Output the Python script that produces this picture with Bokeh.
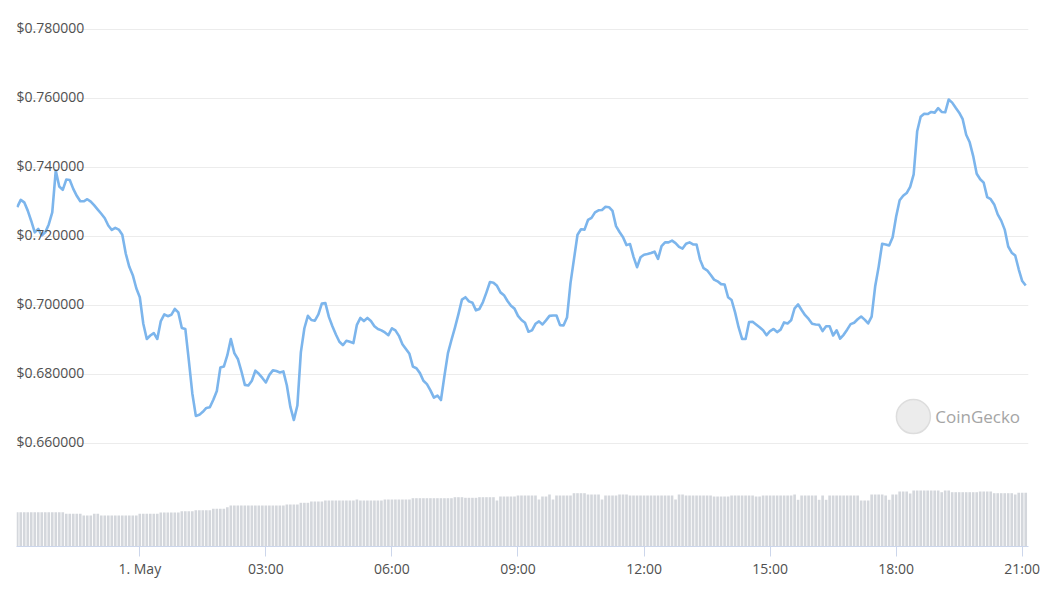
from bokeh.plotting import figure
from bokeh.models import Range1d, FixedTicker, Label
from bokeh.core.properties import value
from bokeh.embed import file_html
from bokeh.resources import INLINE

# ---- data -------------------------------------------------------------
# hours relative to 1 May 00:00; 5-minute samples starting 30 Apr 21:05
start_hour = -2.9167
step_hour = 5 / 60

price = [
    0.7285, 0.7306, 0.7299, 0.7275, 0.7245, 0.7212, 0.7222, 0.7203, 0.7212, 0.7235, 0.7270, 0.7391,
    0.7345, 0.7335, 0.7365, 0.7364, 0.7338, 0.7318, 0.7302, 0.7302, 0.7308, 0.7301, 0.7290, 0.7278,
    0.7266, 0.7253, 0.7232, 0.7219, 0.7225, 0.7220, 0.7205, 0.7150, 0.7112, 0.7088, 0.7050, 0.7024,
    0.6947, 0.6903, 0.6913, 0.6920, 0.6903, 0.6955, 0.6974, 0.6969, 0.6973, 0.6990, 0.6980, 0.6935,
    0.6932, 0.6841, 0.6745, 0.6680, 0.6683, 0.6692, 0.6703, 0.6705, 0.6727, 0.6752, 0.6820, 0.6823,
    0.6856, 0.6903, 0.6862, 0.6845, 0.6810, 0.6770, 0.6768, 0.6782, 0.6811, 0.6802, 0.6790, 0.6777,
    0.6799, 0.6812, 0.6810, 0.6806, 0.6809, 0.6768, 0.6706, 0.6668, 0.6710, 0.6865, 0.6934, 0.6970,
    0.6958, 0.6956, 0.6974, 0.7006, 0.7007, 0.6967, 0.6940, 0.6916, 0.6895, 0.6885, 0.6898, 0.6895,
    0.6891, 0.6944, 0.6964, 0.6955, 0.6964, 0.6955, 0.6940, 0.6932, 0.6928, 0.6922, 0.6914, 0.6934,
    0.6928, 0.6912, 0.6888, 0.6874, 0.6860, 0.6823, 0.6818, 0.6804, 0.6782, 0.6772, 0.6754, 0.6733,
    0.6739, 0.6726, 0.6796, 0.6862, 0.6900, 0.6936, 0.6975, 0.7017, 0.7024, 0.7012, 0.7008, 0.6986,
    0.6990, 0.7010, 0.7038, 0.7068, 0.7066, 0.7057, 0.7038, 0.7030, 0.7013, 0.6999, 0.6991, 0.6970,
    0.6958, 0.6950, 0.6924, 0.6928, 0.6947, 0.6954, 0.6945, 0.6957, 0.6970, 0.6971, 0.6971, 0.6943,
    0.6942, 0.6965, 0.7065, 0.7135, 0.7205, 0.7221, 0.7220, 0.7248, 0.7254, 0.7270, 0.7276, 0.7277,
    0.7286, 0.7285, 0.7274, 0.7230, 0.7213, 0.7198, 0.7175, 0.7178, 0.7141, 0.7111, 0.7140, 0.7147,
    0.7149, 0.7152, 0.7156, 0.7135, 0.7172, 0.7183, 0.7183, 0.7188, 0.7181, 0.7170, 0.7165, 0.7179,
    0.7183, 0.7177, 0.7177, 0.7133, 0.7108, 0.7102, 0.7089, 0.7075, 0.7070, 0.7062, 0.7061, 0.7024,
    0.7016, 0.6980, 0.6937, 0.6903, 0.6903, 0.6952, 0.6953, 0.6945, 0.6937, 0.6928, 0.6914, 0.6926,
    0.6932, 0.6923, 0.6930, 0.6951, 0.6948, 0.6957, 0.6992, 0.7003, 0.6987, 0.6972, 0.6961, 0.6947,
    0.6945, 0.6944, 0.6926, 0.6940, 0.6940, 0.6913, 0.6928, 0.6904, 0.6915, 0.6930, 0.6946, 0.6950,
    0.6960, 0.6968, 0.6959, 0.6948, 0.6968, 0.7055, 0.7112, 0.7179, 0.7177, 0.7174, 0.7198, 0.7258,
    0.7305, 0.7318, 0.7326, 0.7344, 0.7380, 0.7505, 0.7547, 0.7556, 0.7555, 0.7561, 0.7559, 0.7572,
    0.7561, 0.7560, 0.7597, 0.7588, 0.7573, 0.7559, 0.7540, 0.7495, 0.7473, 0.7433, 0.7382, 0.7366,
    0.7356, 0.7314, 0.7308, 0.7293, 0.7264, 0.7246, 0.7220, 0.7171, 0.7153, 0.7145, 0.7105, 0.7071,
    0.7058,
]

# 24h rolling volume, millions USD
volume = [
    343, 343, 343, 343, 343, 343, 343, 343, 343, 343, 343, 343,
    343, 343, 327, 327, 327, 327, 327, 310, 310, 310, 327, 327,
    310, 310, 310, 310, 310, 310, 310, 310, 310, 310, 310, 327,
    327, 327, 327, 327, 327, 340, 340, 340, 340, 340, 340, 353,
    353, 353, 353, 363, 363, 363, 363, 363, 377, 377, 377, 377,
    393, 410, 410, 410, 410, 410, 410, 410, 410, 410, 410, 410,
    410, 410, 410, 410, 410, 420, 420, 420, 420, 437, 437, 437,
    450, 450, 450, 450, 460, 460, 460, 460, 460, 460, 460, 460,
    460, 470, 460, 460, 460, 460, 460, 460, 460, 470, 470, 470,
    470, 470, 470, 470, 470, 483, 483, 483, 483, 483, 483, 483,
    483, 483, 483, 483, 483, 493, 493, 493, 487, 487, 487, 487,
    493, 493, 493, 493, 493, 460, 500, 500, 500, 500, 500, 510,
    510, 510, 510, 510, 510, 470, 500, 500, 520, 470, 510, 510,
    510, 510, 510, 533, 533, 533, 533, 520, 520, 520, 520, 470,
    510, 510, 510, 510, 520, 520, 520, 510, 510, 510, 510, 510,
    510, 510, 510, 510, 510, 510, 510, 510, 470, 520, 520, 510,
    510, 510, 510, 510, 510, 510, 510, 500, 500, 500, 500, 500,
    510, 510, 510, 510, 510, 510, 510, 500, 500, 510, 510, 510,
    510, 510, 510, 510, 510, 510, 520, 467, 510, 510, 510, 510,
    510, 467, 510, 467, 510, 510, 510, 510, 510, 510, 510, 510,
    510, 460, 460, 460, 520, 520, 520, 520, 510, 467, 520, 520,
    550, 550, 550, 530, 560, 560, 560, 560, 560, 560, 560, 560,
    543, 560, 560, 543, 543, 543, 543, 543, 543, 543, 543, 550,
    550, 550, 550, 533, 533, 533, 533, 533, 533, 520, 537, 537,
    537,
]

hours = [start_hour + i * step_hour for i in range(len(price))]

price_ticks = [0.66, 0.68, 0.70, 0.72, 0.74, 0.76, 0.78]
price_tick_labels = ["$0.660000", "$0.680000", "$0.700000", "$0.720000",
                     "$0.740000", "$0.760000", "$0.780000"]
time_ticks = [0, 3, 6, 9, 12, 15, 18, 21]
time_tick_labels = ["1. May", "03:00", "06:00", "09:00", "12:00", "15:00", "18:00", "21:00"]

# ---- figure -------------------------------------------------------------
x0, x1 = -2.9343, 21.1495
p = figure(width=1043, height=586, output_backend="svg", toolbar_location=None,
           x_range=Range1d(x0, x1), y_range=Range1d(0.630145, 0.782609),
           min_border_left=16, min_border_right=15, min_border_top=20, min_border_bottom=40)
p.outline_line_color = None
p.background_fill_color = "white"
p.border_fill_color = "white"

p.yaxis.visible = False
p.xgrid.visible = False
p.ygrid.ticker = FixedTicker(ticks=price_ticks)
p.ygrid.grid_line_color = "#ececec"
p.ygrid.grid_line_width = 1

p.extra_y_ranges = {"vol": Range1d(0, 5260)}

# volume bars
p.vbar(x=hours, top=volume, bottom=0, width=step_hour * 0.75, y_range_name="vol",
       fill_color="#d4d7dc", line_color=None)

# price line
p.line(hours, price, line_color="#7cb5ec", line_width=2.6, line_join="round")

# y labels inside plot, above gridlines
p.text(x=[x0] * len(price_ticks), y=price_ticks, text=price_tick_labels,
       text_align="left", text_baseline="alphabetic", y_offset=-2,
       text_font=value("Open Sans"), text_font_size="14px", text_color="#505050")

# x axis
xa = p.xaxis[0]
xa.ticker = FixedTicker(ticks=time_ticks)
xa.major_label_overrides = {t: l for t, l in zip(time_ticks, time_tick_labels)}
xa.axis_line_color = "#ccd6eb"
xa.major_tick_line_color = "#ccd6eb"
xa.major_tick_in = 0
xa.major_tick_out = 10
xa.minor_tick_line_color = None
xa.major_label_standoff = 2
xa.major_label_text_font = "Open Sans"
xa.major_label_text_font_size = "14px"
xa.major_label_text_color = "#505050"

# watermark
p.scatter(x=[18.41], y=[0.6678], size=34, marker="circle",
          fill_color="#ececec", line_color="#dddddd", line_width=1.5)
p.add_layout(Label(x=18.93, y=0.6678, text="CoinGecko", text_baseline="middle",
                   text_font="Open Sans", text_font_size="17px", text_color="#a5a5a5"))

open("out.html", "w").write(file_html(p, INLINE))
